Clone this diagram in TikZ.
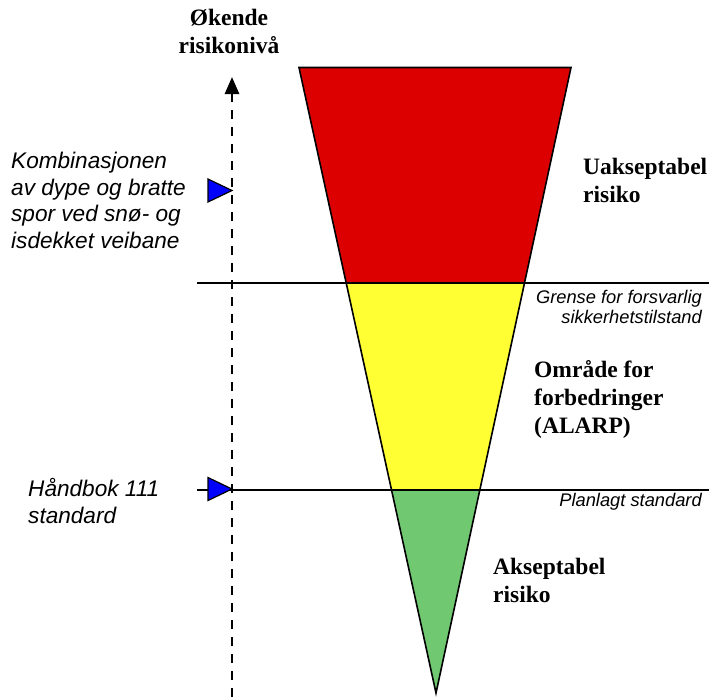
\documentclass[tikz,border=0pt]{standalone}
\usepackage{fontspec}
\setmainfont{Liberation Serif}
\setsansfont{Liberation Sans}
\usetikzlibrary{arrows.meta}
\definecolor{riskred}{RGB}{221,0,0}
\definecolor{riskyellow}{RGB}{255,255,51}
\definecolor{riskgreen}{RGB}{112,200,112}

\begin{document}
\begin{tikzpicture}[x=1pt,y=-1pt,
  zone/.style={draw=black,line width=1.6pt},
  level/.style={draw=black,line width=1.5pt},
  marker/.style={fill=blue,draw=black,line width=1.2pt,line join=miter},
  axis/.style={line width=2.8pt,dash pattern=on 9pt off 8pt,-{Triangle[length=17pt,width=14pt]}},
  headlabel/.style={font=\fontsize{23.5}{28}\selectfont\bfseries,align=center,inner sep=0pt,anchor=base},
  boldlabel/.style={font=\fontsize{23.5}{28}\selectfont\bfseries,align=left,inner sep=0pt,anchor=base west},
  note/.style={font=\sffamily\itshape\fontsize{22.6}{26.5}\selectfont,align=left,inner sep=0pt,anchor=base west},
  smallnote/.style={font=\sffamily\itshape\fontsize{18.3}{20}\selectfont,align=right,inner sep=0pt,anchor=base east}]
\useasboundingbox (0,0) rectangle (709,697);
\def\funnel{(299,67.5) -- (571,67.5) -- (436,693) -- cycle}
\def\markershape{-- ++(-24,-11.5) -- ++(0,23) -- cycle}
\begin{scope}
\clip \funnel;
\fill[riskred] (0,0) rectangle (709,283);
\fill[riskyellow] (0,283) rectangle (709,490);
\fill[riskgreen] (0,490) rectangle (709,697);
\end{scope}
\draw[zone] \funnel;
\coordinate (grense west) at (197,283);
\coordinate (grense east) at (709,283);
\coordinate (plan west) at (197,490);
\coordinate (plan east) at (709,490);
\draw[level] (grense west) -- (grense east);
\draw[level] (plan west) -- (plan east);
\coordinate (axis bottom) at (232,697);
\coordinate (axis top) at (232,77);
\draw[axis] (axis bottom) -- (axis top);
\coordinate (kombi mark) at (232,190.5);
\coordinate (hb mark) at (232,489);
\draw[marker] (kombi mark) \markershape;
\draw[marker] (hb mark) \markershape;
\node[headlabel] (okende) at (229,53) {Økende\\risikonivå};
\node[boldlabel] (uakseptabel) at (583,202) {Uakseptabel\\risiko};
\node[boldlabel] (alarp) at (534,433) {Område for\\forbedringer\\(ALARP)};
\node[boldlabel] (akseptabel) at (493,602) {Akseptabel\\risiko};
\node[note] (kombi) at (11,248) {Kombinasjonen\\av dype og bratte\\spor ved snø- og\\isdekket veibane};
\node[note] (handbok) at (28,523) {Håndbok 111\\standard};
\node[smallnote] (grense) at (702,323) {Grense for forsvarlig\\sikkerhetstilstand};
\node[smallnote] (planlagt) at (702,506) {Planlagt standard};
\end{tikzpicture}
\end{document}
